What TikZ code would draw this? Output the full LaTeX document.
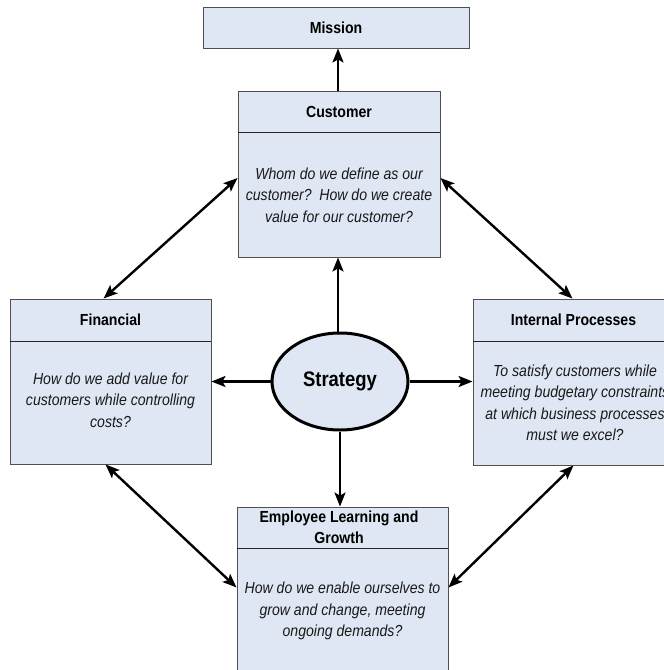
\documentclass[tikz,border=0pt]{standalone}
\usepackage{fontspec}
\setmainfont{Liberation Sans}[FakeStretch=0.88]
\usetikzlibrary{arrows.meta,shapes.geometric}
\definecolor{boxfill}{HTML}{DEE7F3}
\definecolor{boxline}{HTML}{505050}
\begin{document}
\begin{tikzpicture}[x=1pt,y=-1pt,
  panel/.style={draw=boxline, line width=0.9pt, fill=boxfill, rectangle, inner sep=0pt},
  divider/.style={draw=black!85, line width=0.9pt},
  title/.style={font=\fontsize{16}{20.5}\selectfont\bfseries, align=center, inner sep=0pt},
  body/.style={font=\fontsize{16}{21.5}\selectfont\itshape, align=center, text=black!90, inner sep=0pt},
  tip/.tip={Stealth[length=14pt,width=11pt,inset=3pt]},
  link/.style={line width=2.4pt, -tip},
  twoway/.style={line width=2.4pt, tip-tip}]
\useasboundingbox (0,0) rectangle (664,670);
\clip (0,0) rectangle (664,670);

% Mission
\node[panel, minimum width=266pt, minimum height=41pt] (mission) at (336,27.5) {};
\node[title] (missionT) at (mission) {Mission};

% Customer
\node[panel, minimum width=202pt, minimum height=166pt] (customer) at (339,174) {};
\draw[divider] (customer.west |- 0,132) -- (customer.east |- 0,132);
\node[title] (customerT) at (339,111.5) {Customer};
\node[body] (customerB) at (339,195) {Whom do we define as our\\customer?\ \ How do we create\\value for our customer?};

% Financial
\node[panel, minimum width=201pt, minimum height=165pt] (financial) at (110.5,381.5) {};
\draw[divider] (financial.west |- 0,341) -- (financial.east |- 0,341);
\node[title] (financialT) at (110.5,320) {Financial};
\node[body] (financialB) at (110.5,400) {How do we add value for\\customers while controlling\\costs?};

% Internal Processes
\node[panel, minimum width=201pt, minimum height=166pt] (internal) at (573.5,382) {};
\draw[divider] (internal.west |- 0,341) -- (internal.east |- 0,341);
\node[title] (internalT) at (573.5,320) {Internal Processes};
\node[body] (internalB) at (575,403) {To satisfy customers while\\meeting budgetary constraints\\at which business processes\\must we excel?};

% Employee Learning and Growth
\node[panel, minimum width=211pt, minimum height=167pt] (employee) at (342.5,590.5) {};
\draw[divider] (employee.west |- 0,548) -- (employee.east |- 0,548);
\node[title] (employeeT) at (339,527.5) {Employee Learning and\\Growth};
\node[body] (employeeB) at (342.5,611) {How do we enable ourselves to\\grow and change, meeting\\ongoing demands?};

% Strategy
\node[ellipse, draw=black, line width=3pt, fill=boxfill, minimum width=136pt, minimum height=97pt, inner sep=0pt,
      font=\fontsize{21}{24}\selectfont\bfseries] (strategy) at (340,381.5) {Strategy};

% Connectors
\draw[link] (customer.north -| 338,0) -- (mission.south -| 338,0);
\draw[link] (strategy.north -| 338,0) -- (customer.south -| 338,0);
\draw[link] (strategy.west) -- (strategy.west -| financial.east);
\draw[link] (strategy.east) -- (strategy.east -| internal.west);
\draw[link] (strategy.south) -- (strategy.south |- employee.north);

\draw[twoway] ([yshift=-4pt]customer.west) -- ([xshift=-7pt]financial.north);
\draw[twoway] ([yshift=-4pt]customer.east) -- ([xshift=-1pt]internal.north);
\draw[twoway] ([xshift=-5pt]financial.south) -- ([yshift=3pt]employee.west);
\draw[twoway] (internal.south) -- ([yshift=3pt]employee.east);
\end{tikzpicture}
\end{document}
